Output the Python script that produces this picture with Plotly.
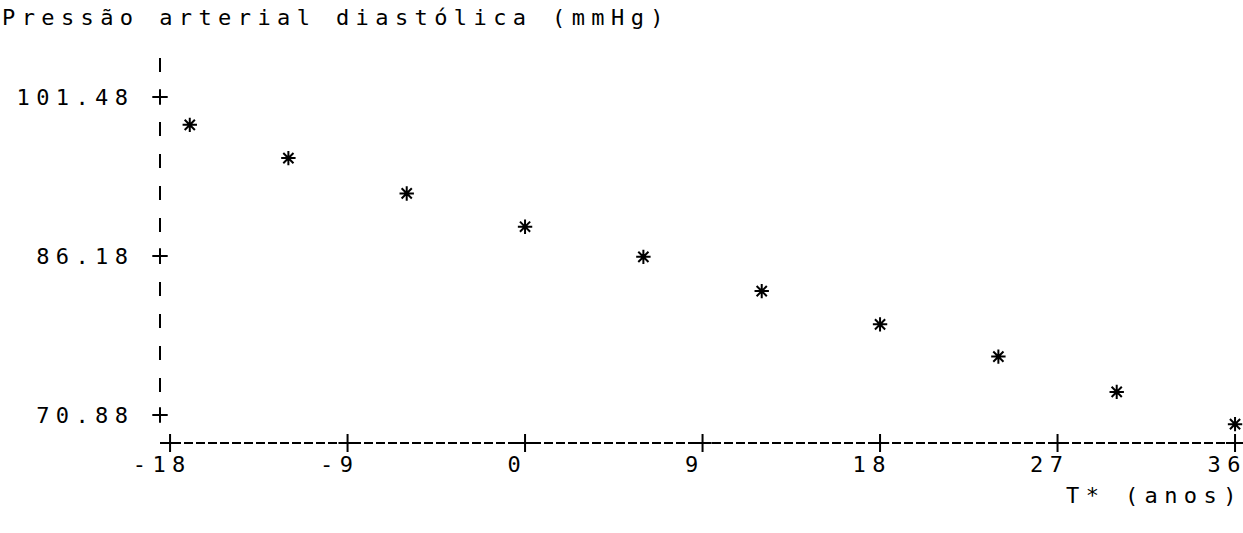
import plotly.graph_objects as go

# data
t_years = [-17, -12, -6, 0, 6, 12, 18, 24, 30, 36]
pad_mmHg = [98.8, 95.6, 92.2, 89.0, 86.1, 82.8, 79.6, 76.5, 73.1, 70.0]

x_ticks = [-18, -9, 0, 9, 18, 27, 36]
x_tick_labels = ["-18", "-9", "0", "9", "18", "27", "36"]
y_ticks = [101.48, 86.18, 70.88]
y_tick_labels = ["101.48", "86.18", "70.88"]

y_title = "Pressão arterial diastólica (mmHg)"
x_title = "T* (anos)"

FONT = "DejaVu Sans Mono"
FS = 22
LS = 6.4  # letter spacing px


def sp(s):
    # spaced-out printer-like text, without trailing spacing after the last glyph
    if len(s) <= 1:
        return s
    return f'<span style="letter-spacing:{LS}px">{s[:-1]}</span>{s[-1]}'


XR = [-18.51, 36.15]
YR = [68.185, 105.04]

fig = go.Figure()

fig.add_trace(go.Scatter(
    x=t_years, y=pad_mmHg, mode="markers",
    marker=dict(symbol="asterisk-open", size=12, color="black",
                line=dict(color="black", width=2)),
    cliponaxis=False, showlegend=False, hoverinfo="x+y"))

# "+" marks on the axes at tick values
fig.add_trace(go.Scatter(
    x=x_ticks, y=[YR[0]] * len(x_ticks), mode="markers",
    marker=dict(symbol="cross-thin-open", size=13, color="black",
                line=dict(color="black", width=2)),
    cliponaxis=False, showlegend=False, hoverinfo="skip"))
fig.add_trace(go.Scatter(
    x=[XR[0]] * len(y_ticks), y=y_ticks, mode="markers",
    marker=dict(symbol="cross-thin-open", size=11, color="black",
                line=dict(color="black", width=2)),
    cliponaxis=False, showlegend=False, hoverinfo="skip"))

fig.update_layout(
    width=1243, height=533,
    margin=dict(l=160, r=5, t=60, b=90),
    paper_bgcolor="white", plot_bgcolor="white",
    font=dict(family=FONT, size=FS, color="black"),
    xaxis=dict(range=XR, showgrid=False, zeroline=False, showline=False,
               ticks="", tickvals=x_ticks,
               ticktext=[sp(t) for t in x_tick_labels],
               tickfont=dict(family=FONT, size=FS, color="black"),
               ticklabelstandoff=6, ticklabelshift=-11,
               ticklabeloverflow="allow", automargin=False),
    yaxis=dict(range=YR, showgrid=False, zeroline=False, showline=False,
               ticks="", tickvals=y_ticks,
               ticktext=[sp(t) for t in y_tick_labels],
               tickfont=dict(family=FONT, size=FS, color="black"),
               ticklabelstandoff=31, automargin=False),
    shapes=[
        dict(type="line", xref="paper", yref="paper", x0=0, x1=1, y0=0, y1=0,
             line=dict(color="black", width=2, dash="9px,3px")),
        dict(type="line", xref="paper", yref="paper", x0=0, x1=0,
             y0=(443 - 58) / 383, y1=(443 - 400) / 383,
             line=dict(color="black", width=2, dash="14px,18px")),
    ],
    annotations=[
        dict(text=sp(y_title), xref="paper", yref="paper",
             x=-160 / 1078, y=1 + 43 / 383, xanchor="left", yanchor="middle",
             showarrow=False, font=dict(family=FONT, size=FS, color="black")),
        dict(text=sp(x_title), xref="paper", yref="paper",
             x=1, y=-52 / 383, xanchor="right", yanchor="middle",
             showarrow=False, font=dict(family=FONT, size=FS, color="black")),
    ],
)

fig.write_html("out.html", config={"displayModeBar": False})

# remove the default page margin so the figure sits at the window origin
with open("out.html", encoding="utf-8") as f:
    html = f.read()
html = html.replace("<head>", "<head><style>html,body{margin:0;padding:0;overflow:hidden}</style>", 1)
with open("out.html", "w", encoding="utf-8") as f:
    f.write(html)
